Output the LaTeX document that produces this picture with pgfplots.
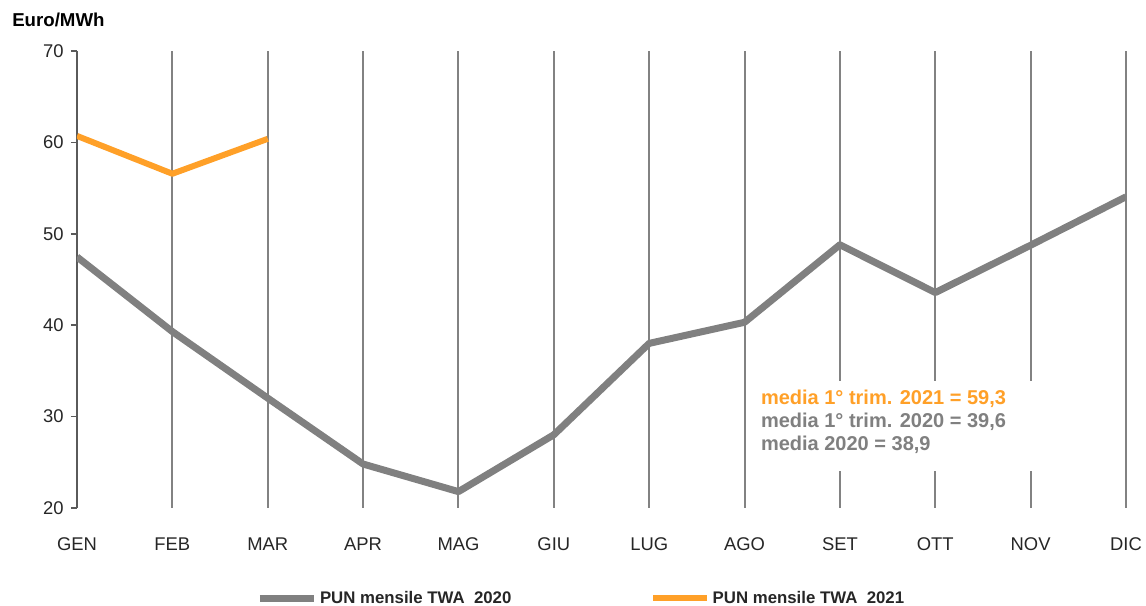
\documentclass[border=0pt]{standalone}
\usepackage{pgfplots}
\pgfplotsset{compat=1.18}
\usepackage{fontspec}
\setmainfont{Liberation Sans}
\definecolor{g20}{RGB}{128,128,128}
\definecolor{or21}{RGB}{255,160,40}
\definecolor{gridc}{RGB}{130,130,130}
\definecolor{axc}{RGB}{90,90,90}
\definecolor{txt}{RGB}{38,38,38}
\begin{document}
\begin{tikzpicture}
\useasboundingbox (-57.75pt,-73.5pt) rectangle (801.75pt,381pt);
\begin{axis}[
  at={(0pt,0pt)}, anchor=south west,
  width=786.75pt, height=342.75pt, scale only axis,
  xmin=0, xmax=11, ymin=20, ymax=70,
  xtick={0,...,11},
  xticklabels={GEN,FEB,MAR,APR,MAG,GIU,LUG,AGO,SET,OTT,NOV,DIC},
  ytick={20,30,40,50,60,70},
  axis lines=left,
  axis line style={-},
  x axis line style={draw=none},
  y axis line style={draw=axc, line width=1.1pt},
  xtick style={draw=none},
  ytick style={draw=axc, line width=1.1pt},
  tick align=outside,
  major tick length=4.5pt,
  xmajorgrids,
  grid style={draw=gridc, line width=1.5pt},
  /pgf/number format/assume math mode=true,
  tick label style={font=\fontsize{13.8pt}{16pt}\selectfont, text=txt},
  xticklabel style={yshift=-14pt},
  yticklabel style={xshift=-2pt},
  legend columns=2,
  legend style={at={(0.481,-0.197)}, anchor=center, draw=none, fill=none,
    font=\fontsize{12.6pt}{14pt}\selectfont\bfseries, text=txt,
    /tikz/every even column/.append style={column sep=102pt}},
  legend image code/.code={\draw[#1] (0pt,0pt) -- (40.5pt,0pt);},
  line join=round,
]
\fill[white] (axis cs:7.05,24.05) rectangle (axis cs:10.2,33.9);
\addplot[g20, line width=5.25pt] coordinates {
 (0,47.47) (1,39.30) (2,32.02) (3,24.81) (4,21.79) (5,28.01)
 (6,38.01) (7,40.32) (8,48.80) (9,43.57) (10,48.75) (11,54.05)};
\addlegendentry{PUN mensile TWA\ \ 2020}
\addplot[or21, line width=4.5pt] coordinates {
 (0,60.71) (1,56.57) (2,60.39)};
\addlegendentry{PUN mensile TWA\ \ 2021}
\node[anchor=west, align=left, inner sep=0pt, font=\fontsize{15pt}{17.25pt}\selectfont\bfseries]
  at (axis cs:7.17,29.4) {\textcolor{or21}{media 1° trim. 2021 = 59,3}\\
  \textcolor{g20}{media 1° trim. 2020 = 39,6}\\
  \textcolor{g20}{media 2020 = 38,9}};
\end{axis}
\node[anchor=west, font=\fontsize{14pt}{16pt}\selectfont\bfseries, text=black, inner sep=0pt]
  at (-48.75pt,366pt) {Euro/MWh};
\end{tikzpicture}
\end{document}
